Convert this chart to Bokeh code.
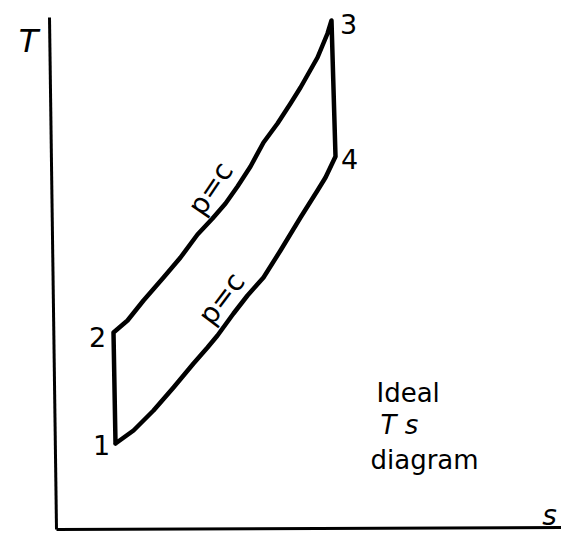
from bokeh.plotting import figure
from bokeh.models import Range1d
from bokeh.core.properties import value
from bokeh.embed import file_html
from bokeh.resources import INLINE

# ---- data (entropy s, temperature T in arbitrary drawing units) ----
state_labels = ["1", "2", "3", "4"]
state_s = [59, 57, 275, 279]
state_T = [86, 197, 509, 373]

# constant-pressure line 2 -> 3 (heat addition)
upper_s = [57, 71, 87, 107, 124, 141, 156, 169, 181, 194, 207, 221, 234, 244, 261, 271, 275]
upper_T = [197, 209, 229, 252, 272, 295, 311, 326, 343, 363, 387, 406, 426, 442, 472, 496, 509]

# constant-pressure line 1 -> 4 (heat rejection)
lower_s = [59, 77, 97, 117, 137, 151, 161, 177, 191, 207, 224, 244, 261, 269, 279]
lower_T = [86, 99, 119, 142, 166, 182, 194, 216, 234, 252, 279, 312, 339, 352, 373]

# hand-drawn axes
yaxis_s = [-7, 0]
yaxis_T = [512, 0]
xaxis_s = [0, 521]
xaxis_T = [0, 2]

# ---- figure ----
p = figure(width=561, height=537, output_backend="svg", toolbar_location=None,
           x_range=Range1d(-56, 505), y_range=Range1d(-8, 529),
           x_axis_location=None, y_axis_location=None, min_border=0)
p.grid.visible = False
p.outline_line_color = None
p.background_fill_color = "white"
p.border_fill_color = "white"

p.line(yaxis_s, yaxis_T, line_color="black", line_width=3)
p.line(xaxis_s, xaxis_T, line_color="black", line_width=3)

# closed Brayton cycle: 1 -> 2 -> 3 -> 4 -> 1
cyc_s = [state_s[0]] + upper_s + [state_s[3]] + lower_s[::-1]
cyc_T = [state_T[0]] + upper_T + [state_T[3]] + lower_T[::-1]
p.line(cyc_s, cyc_T, line_color="black", line_width=4.5, line_join="round", line_cap="round")

font = value("DejaVu Sans")

# state numbers
lab_s = [45, 41, 292, 293]
lab_T = [85, 193, 506, 371]
p.text(lab_s, lab_T, text=state_labels, text_font=font, text_font_size="27px",
       text_align="center", text_baseline="alphabetic", text_color="black")

# p = c labels along the isobars
p.text([154, 165], [341, 231], text=["p=c", "p=c"], angle=[56, 53], angle_units="deg",
       text_font=font, text_font_size="28px", text_align="center",
       text_baseline="middle", text_color="black")

# axis labels
p.text([-28], [489], text=["T"], text_font=font, text_font_size="32px",
       text_font_style="italic", text_align="center", text_baseline="middle", text_color="black")
p.text([493], [14], text=["s"], text_font=font, text_font_size="28px",
       text_font_style="italic", text_align="center", text_baseline="middle", text_color="black")

# caption
p.text([320], [137], text=["Ideal"], text_font=font, text_font_size="26px",
       text_align="left", text_baseline="alphabetic", text_color="black")
p.text([324], [105], text=["T s"], text_font=font, text_font_size="26px",
       text_font_style="italic", text_align="left", text_baseline="alphabetic", text_color="black")
p.text([314], [70], text=["diagram"], text_font=font, text_font_size="26px",
       text_align="left", text_baseline="alphabetic", text_color="black")

open("out.html", "w").write(file_html(p, INLINE))
